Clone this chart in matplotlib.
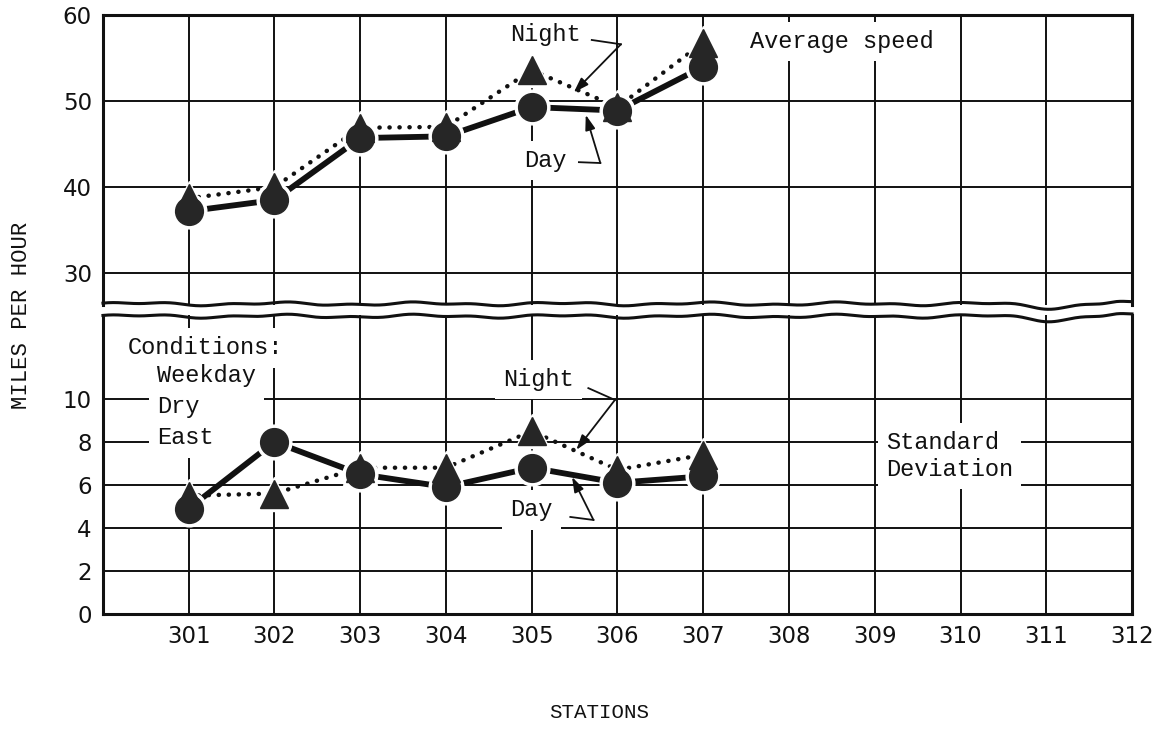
import numpy as np
import matplotlib.pyplot as plt

stations = [301, 302, 303, 304, 305, 306, 307]
day_speed = [37.2, 38.5, 45.7, 45.9, 49.3, 48.9, 54.0]
night_speed = [38.7, 40.0, 46.9, 47.0, 53.6, 49.3, 56.8]
day_sd = [4.9, 8.0, 6.5, 5.9, 6.8, 6.1, 6.4]
night_sd = [5.5, 5.6, 6.8, 6.8, 8.5, 6.7, 7.4]

x_ticks = list(range(301, 313))
speed_ticks = [30, 40, 50, 60]
sd_ticks = [0, 2, 4, 6, 8, 10]
conditions = ["Weekday", "Dry", "East"]

MONO = "Liberation Mono"
INK = "#111111"

fig = plt.figure(figsize=(11.53, 7.29), dpi=100)
ax_top = fig.add_axes([0.0893, 0.5816, 0.8925, 0.3978])
ax_bot = fig.add_axes([0.0893, 0.1578, 0.8925, 0.4101])


def style_axes(ax, yticks, ylim):
    ax.set_xlim(300, 312)
    ax.set_ylim(*ylim)
    ax.set_xticks(x_ticks)
    ax.set_yticks(yticks)
    ax.grid(True, color=INK, lw=1.4)
    ax.set_axisbelow(True)
    ax.tick_params(length=0, labelsize=16.5, colors=INK, pad=8)
    for s in ax.spines.values():
        s.set_linewidth(2.2)
        s.set_color(INK)


def draw_series(ax, day, night):
    ax.plot(stations, night, color=INK, lw=3.2, linestyle=(0, (0.05, 2.2)),
            dash_capstyle="round", zorder=3)
    ax.plot(stations, day, color=INK, lw=4.2, solid_capstyle="butt", zorder=3)
    # white halo so the lines stop short of the markers
    ax.plot(stations, night, ls="none", marker="^", ms=25, color="white", zorder=4)
    ax.plot(stations, day, ls="none", marker="o", ms=25, color="white", zorder=4)
    ax.plot(stations, night, ls="none", marker="^", ms=20, color="#262626", zorder=5)
    ax.plot(stations, day, ls="none", marker="o", ms=20, color="#262626", zorder=5)


def label(ax, x, y, text, **kw):
    ax.text(x, y, text, family=MONO, fontsize=17, color=INK, zorder=2.5,
            bbox=dict(facecolor="white", edgecolor="none", pad=6), **kw)


def leader(ax, pts, tip):
    xs, ys = zip(*pts)
    ax.plot(xs, ys, color=INK, lw=1.3, zorder=7)
    ax.annotate("", xy=tip, xytext=pts[-1], zorder=7,
                arrowprops=dict(arrowstyle="-|>,head_length=0.9,head_width=0.3",
                                color=INK, lw=1.3, shrinkA=0, shrinkB=0))


style_axes(ax_top, speed_ticks, (26.3, 60))
style_axes(ax_bot, sd_ticks, (0, 13.9))
ax_top.set_xticklabels([])
ax_bot.set_xticklabels([str(s) for s in x_ticks])
ax_top.spines["bottom"].set_visible(False)
ax_bot.spines["top"].set_visible(False)

# wavy break lines between the two panels
wx = np.linspace(0, 1, 600)
wave = 0.004 * np.sin(2 * np.pi * wx * 7.3) + 0.003 * np.sin(2 * np.pi * wx * 17 + 1.0)
dip = -0.012 * np.exp(-((wx - 0.92) / 0.03) ** 2) + 0.006 * np.exp(-((wx - 0.985) / 0.012) ** 2)
ax_top.plot(wx, 0.004 + wave + dip, transform=ax_top.transAxes, color=INK, lw=2.2, clip_on=False, zorder=8)
ax_bot.plot(wx, 0.996 + wave + dip, transform=ax_bot.transAxes, color=INK, lw=2.2, clip_on=False, zorder=8)

draw_series(ax_top, day_speed, night_speed)
draw_series(ax_bot, day_sd, night_sd)

# upper panel labels
label(ax_top, 307.55, 56.9, "Average speed", va="center", ha="left")
label(ax_top, 305.16, 57.7, "Night", va="center", ha="center")
leader(ax_top, [(305.70, 57.1), (306.04, 56.6)], (305.49, 51.0))
label(ax_top, 305.16, 43.1, "Day", va="center", ha="center")
leader(ax_top, [(305.55, 42.9), (305.80, 42.8)], (305.63, 48.4))

# lower panel labels
label(ax_bot, 300.29, 12.37, "Conditions:", va="center", ha="left")
label(ax_bot, 300.63, 9.63, "\n".join(conditions), va="center", ha="left", linespacing=1.45)
label(ax_bot, 305.08, 10.9, "Night", va="center", ha="center")
leader(ax_bot, [(305.66, 10.5), (305.97, 9.95)], (305.52, 7.63))
label(ax_bot, 305.0, 4.84, "Day", va="center", ha="center")
leader(ax_bot, [(305.45, 4.51), (305.72, 4.37)], (305.47, 6.37))
label(ax_bot, 309.13, 7.35, "Standard\nDeviation", va="center", ha="left", linespacing=1.2)

fig.text(0.019, 0.567, "MILES PER HOUR", rotation=90, family=MONO, fontsize=16,
         color=INK, ha="center", va="center")
fig.text(0.52, 0.023, "STATIONS", family=MONO, fontsize=15, color=INK,
         ha="center", va="center")

fig.savefig("out.png", dpi=100, facecolor="white")
